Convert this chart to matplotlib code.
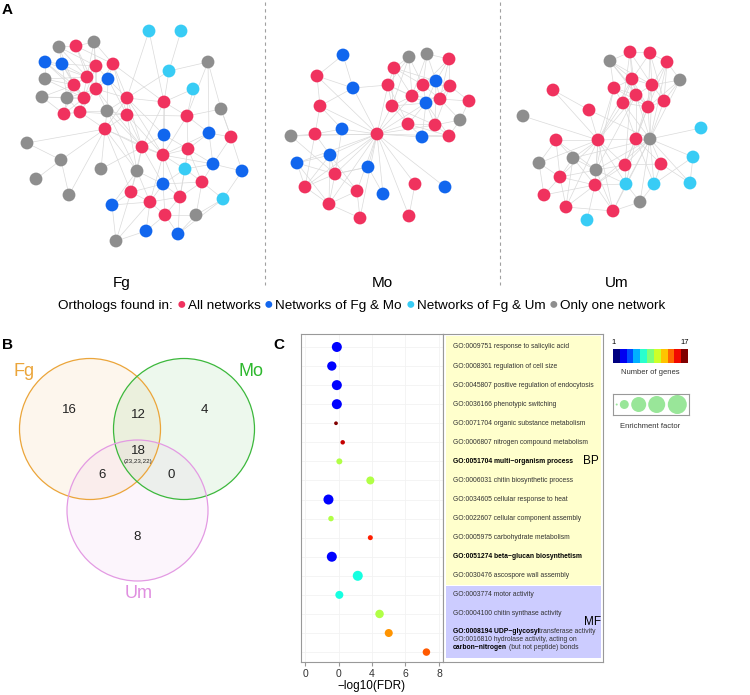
import numpy as np
import matplotlib
matplotlib.use("Agg")
import matplotlib.pyplot as plt
from matplotlib.colors import ListedColormap, BoundaryNorm, Normalize
from matplotlib.patches import Circle, Rectangle
from matplotlib.cm import ScalarMappable

plt.rcParams['font.family'] = ['Liberation Sans', 'DejaVu Sans']

# ---------------- panel A: co-expression networks ----------------
group_colors = {'r': '#F0325E', 'b': '#1166EE', 'c': '#38CCF5', 'g': '#8E8E8E'}
legend_labels = ["All networks", "Networks of Fg & Mo", "Networks of Fg & Um", "Only one network"]
legend_groups = ['r', 'b', 'c', 'g']

fg_x = [149, 181, 169, 193, 185, 223,
        59, 94, 45, 42, 67, 107, 208, 221, 27, 61, 36, 101, 69, 137, 196, 116,
        45, 62, 108, 164, 209, 213, 242, 163, 112, 146, 178,
        76, 96, 113, 87, 74, 96, 84, 127, 64, 80, 127, 105, 164, 187, 231, 142, 163, 188, 202, 131, 150, 180, 165]
fg_y = [31, 31, 71, 89, 169, 199,
        47, 42, 79, 97, 98, 111, 62, 109, 143, 160, 179, 169, 195, 171, 215, 241,
        62, 64, 79, 135, 133, 164, 171, 184, 205, 231, 234,
        46, 66, 64, 77, 85, 89, 98, 98, 114, 112, 115, 129, 102, 116, 137, 147, 155, 149, 182, 192, 202, 197, 215]
fg_grp = "ccccccggggggggggggggggbbbbbbbbbbbrrrrrrrrrrrrrrrrrrrrrrr"
fg_edges = ("6-33 6-36 6-23 6-34 6-37 7-33 7-34 7-36 7-38 7-35 22-23 22-36 22-37 22-8 22-39 23-36 23-37 23-34 "
            "23-39 23-10 8-37 8-36 8-39 9-37 9-39 9-41 9-10 10-39 10-42 10-38 10-41 10-37 11-38 11-40 11-43 11-44 "
            "11-42 11-24 24-35 24-34 24-38 24-40 24-43 33-36 33-35 33-38 34-36 34-38 34-39 35-38 35-40 35-43 36-37 "
            "36-38 36-42 37-39 37-41 38-39 38-42 38-40 39-42 39-41 40-43 40-44 41-42 42-44 43-44 43-42 "
            "40-48 43-48 43-49 44-48 40-45 40-25 43-19 44-19 11-48 44-49 40-49 43-46 38-48 35-45 44-52 11-19 "
            "45-46 45-25 45-48 45-49 46-13 46-50 46-26 46-49 25-48 25-49 25-50 26-50 26-47 26-27 47-27 47-28 "
            "47-13 48-49 48-19 48-52 48-29 49-50 49-29 49-4 49-53 49-54 50-27 50-4 50-51 27-28 27-51 27-4 4-51 "
            "4-29 4-54 51-54 51-5 51-20 5-20 29-52 29-53 29-54 29-55 52-53 52-30 52-19 53-55 53-54 53-31 53-21 "
            "54-55 54-32 55-31 55-32 55-20 19-53 19-29 30-53 30-19 31-21 32-20 51-29 50-54 26-49 27-49 "
            "0-45 0-40 1-2 2-45 2-12 2-40 3-46 3-45 12-13 12-46 13-47 12-26 14-15 14-44 15-16 15-18 15-44 "
            "17-44 17-48 18-44 21-30 21-52 28-5 5-32")

mo_x = [343, 353, 342, 330, 297, 368, 383, 445, 436, 426, 422,
        291, 409, 427, 460,
        317, 320, 315, 377, 335, 305, 329, 357, 360, 415, 409, 394, 388, 392, 412, 423, 449, 450, 440, 469, 408, 435, 449]
mo_y = [55, 88, 129, 155, 163, 167, 194, 187, 81, 103, 137,
        136, 57, 54, 120,
        76, 106, 134, 134, 174, 187, 204, 191, 218, 184, 216, 68, 85, 106, 96, 85, 59, 86, 99, 101, 124, 125, 136]
mo_grp = "bbbbbbbbbbbggggrrrrrrrrrrrrrrrrrrrrrrr"
mo_edges = ("18-1 18-2 18-3 18-4 18-5 18-6 18-7 18-10 18-15 18-16 18-17 18-19 18-20 18-21 18-22 18-23 18-24 "
            "18-25 18-27 18-28 18-35 18-36 18-9 18-29 18-37 18-11 "
            "0-15 0-1 15-1 15-16 1-16 1-27 16-17 16-2 17-2 17-11 17-20 11-19 4-3 4-19 4-20 3-19 3-20 3-22 2-19 "
            "19-20 19-21 19-22 19-5 20-21 21-22 21-3 22-23 5-6 5-19 24-25 21-23 3-17 4-21 "
            "12-26 12-27 12-29 12-30 12-28 13-30 13-31 13-8 13-29 26-27 26-29 26-30 26-8 27-28 27-29 27-9 28-29 "
            "28-9 28-35 29-30 29-9 29-8 29-33 30-8 30-32 30-33 31-32 31-8 31-33 32-33 32-34 32-9 33-34 33-9 33-14 "
            "34-14 8-9 8-33 9-35 9-36 9-10 35-36 35-10 36-37 36-14 10-37 37-14 28-36 27-35 26-28 30-9 31-30 "
            "32-36 8-36 35-37 9-37")

um_x = [630, 650, 667, 632, 652, 614, 636, 664, 623, 648, 553, 589, 598, 636, 556, 560, 595, 625, 661, 544, 566, 613,
        610, 680, 523, 650, 573, 539, 596, 640,
        701, 693, 690, 654, 626, 587]
um_y = [52, 53, 62, 79, 85, 88, 95, 101, 103, 107, 90, 110, 140, 139, 140, 177, 185, 165, 164, 195, 207, 211,
        61, 80, 116, 139, 158, 163, 170, 202,
        128, 157, 183, 184, 184, 220]
um_grp = "rrrrrrrrrrrrrrrrrrrrrrggggggggcccccc"
um_edges = ("22-0 22-3 22-5 22-4 22-6 0-1 0-3 0-4 0-6 1-2 1-4 1-3 1-9 2-4 2-7 2-23 3-4 3-5 3-6 3-9 4-6 4-7 4-9 "
            "4-23 5-6 5-8 6-8 6-9 7-9 7-23 8-9 0-8 1-7 2-9 23-9 22-9 3-8 5-9 "
            "5-12 8-12 6-12 8-13 9-13 6-13 9-25 7-25 4-25 3-12 6-25 8-25 5-28 6-28 9-17 3-17 23-25 4-13 2-25 "
            "10-11 10-12 11-12 11-25 24-12 14-12 12-13 12-26 12-28 12-16 12-15 12-20 12-21 12-17 12-34 12-27 "
            "13-25 25-30 25-31 25-32 25-34 25-17 25-18 25-33 25-16 25-29 25-21 25-26 25-28 13-17 13-34 13-18 "
            "13-33 17-18 17-34 17-28 17-16 18-33 18-32 31-32 31-33 14-26 14-27 14-15 14-28 26-15 26-28 26-16 "
            "27-19 27-15 15-19 15-16 15-20 19-16 16-20 16-21 16-35 16-28 20-21 21-34 21-29 16-34 28-34 28-21 "
            "29-33 29-34 26-20 15-28")

net_names = ["Fg", "Mo", "Um"]

# ---------------- panel B: Venn ----------------
venn_sets = ["Fg", "Mo", "Um"]
venn_counts = {"Fg": 16, "Mo": 4, "Um": 8, "FgMo": 12, "FgUm": 6, "MoUm": 0, "all": 18}
venn_all_note = "(23,23,22)"

# ---------------- panel C: GO enrichment ----------------
go_labels = ["GO:0009751 response to salicylic acid",
             "GO:0008361 regulation of cell size",
             "GO:0045807 positive regulation of endocytosis",
             "GO:0036166 phenotypic switching",
             "GO:0071704 organic substance metabolism",
             "GO:0006807 nitrogen compound metabolism",
             "GO:0051704 multi\u2212organism process",
             "GO:0006031 chitin biosynthetic process",
             "GO:0034605 cellular response to heat",
             "GO:0022607 cellular component assembly",
             "GO:0005975 carbohydrate metabolism",
             "GO:0051274 beta\u2212glucan biosynthetism",
             "GO:0030476 ascospore wall assembly",
             "GO:0003774 motor activity",
             "GO:0004100 chitin synthase activity",
             "GO:0008194 UDP\u2212glycosyltransferase activity",
             "GO:0016810 hydrolase activity, acting on carbon\u2212nitrogen (but not peptide) bonds"]
go_bold = [False, False, False, False, False, False, True, False, False, False, False, True, False,
           False, False, False, False]
neg_log_fdr = [1.9, 1.6, 1.9, 1.9, 1.85, 2.25, 2.05, 3.9, 1.4, 1.55, 3.9, 1.6, 3.15, 2.05, 4.45, 5.0, 7.25]
n_genes = [3, 3, 3, 3, 17, 16, 10, 10, 3, 10, 15, 3, 7, 7, 10, 13, 14]
enrichment = [5.0, 4.3, 5.0, 5.0, 0.7, 1.0, 1.8, 3.2, 5.0, 1.5, 1.25, 5.0, 5.0, 3.2, 3.6, 3.2, 2.8]
x_ticks = [0, 2, 4, 6, 8]
x_ticklabels = ["0", "0", "4", "6", "8"]
enrich_legend = [0.2, 4.0, 11.2, 14.4, 18.0]

# ======================================================
fig = plt.figure(figsize=(7.5, 6.95), dpi=100)
ax0 = fig.add_axes([0, 0, 1, 1])
ax0.set_xlim(0, 750)
ax0.set_ylim(695, 0)
ax0.axis('off')


def draw_net(xs, ys, grp, edges):
    for pair in edges.split():
        i, j = map(int, pair.split('-'))
        ax0.plot([xs[i], xs[j]], [ys[i], ys[j]], color='#DADADA', lw=0.5, zorder=1)
    ax0.scatter(xs, ys, s=85, c=[group_colors[g] for g in grp], linewidths=0, zorder=2)


draw_net(fg_x, fg_y, fg_grp, fg_edges)
draw_net(mo_x, mo_y, mo_grp, mo_edges)
draw_net(um_x, um_y, um_grp, um_edges)

for xv in (265, 500):
    ax0.plot([xv, xv], [2, 285], color='#A0A0A0', lw=0.8, dashes=(3, 3))

for name, xc in zip(net_names, (122, 382, 617)):
    ax0.text(xc, 283, name, fontsize=11, ha='center', va='center')

ax0.text(2, 10, "A", fontsize=11, fontweight='bold', va='center')
ax0.text(2, 345, "B", fontsize=11, fontweight='bold', va='center')
ax0.text(273, 345, "C", fontsize=11, fontweight='bold', va='center')

# legend line
prev = ax0.text(58, 306, "Orthologs found in:", fontsize=9.7, va='center', ha='left')
for lab, g in zip(legend_labels, legend_groups):
    dot = ax0.annotate("\u25CF", xy=(1, 0), xycoords=prev, xytext=(2.5, 0.3), textcoords='offset points',
                       va='bottom', ha='left', fontsize=11.5, color=group_colors[g])
    prev = ax0.annotate(lab, xy=(1, 0), xycoords=dot, xytext=(1.2, -0.3), textcoords='offset points',
                        va='bottom', ha='left', fontsize=9.7)

# Venn diagram
venn_style = {"Fg": ((90, 429), '#EBA53A'), "Mo": ((184, 429), '#3CB83C'), "Um": ((137.5, 510.5), '#E39AE3')}
for s in venn_sets:
    (cx, cy), col = venn_style[s]
    ax0.add_patch(Circle((cx, cy), 70.5, facecolor=col, alpha=0.09, edgecolor='none', zorder=1))
    ax0.add_patch(Circle((cx, cy), 70.5, facecolor='none', edgecolor=col, lw=0.9, zorder=2))
ax0.text(24, 371, "Fg", fontsize=13, color='#EBA53A', ha='center', va='center')
ax0.text(251, 371, "Mo", fontsize=13, color='#2EB82E', ha='center', va='center')
ax0.text(139, 593, "Um", fontsize=13, color='#E08FE0', ha='center', va='center')
venn_pos = {"Fg": (69, 410), "Mo": (204, 410), "Um": (137, 537), "FgMo": (138, 415),
            "FgUm": (102, 475), "MoUm": (171, 475), "all": (138, 451)}
for k, (px, py) in venn_pos.items():
    ax0.text(px, py, str(venn_counts[k]), fontsize=9.5, ha='center', va='center', color='#222222')
ax0.text(138, 462, venn_all_note, fontsize=4.5, ha='center', va='center', color='#222222')

# dot plot
W, H = 750.0, 695.0


def rect(x0, y0, x1, y1):
    return [x0 / W, 1 - y1 / H, (x1 - x0) / W, (y1 - y0) / H]


rows = np.arange(1, len(go_labels) + 1)
ylims = (17.52, 0.32)
axc = fig.add_axes(rect(301, 334, 443, 662))
axc.grid(True, color='#F2F2F2', lw=0.6)
axc.set_axisbelow(True)
axc.scatter(neg_log_fdr, rows, s=np.array(enrichment) * 10.4, c=n_genes, cmap='jet',
            norm=Normalize(1, 17), linewidths=0, zorder=3)
axc.set_xlim(-0.24, 8.24)
axc.set_ylim(*ylims)
axc.set_yticks(rows)
axc.set_yticklabels([])
axc.tick_params(axis='y', length=0)
axc.set_xticks(x_ticks)
axc.set_xticklabels(x_ticklabels)
axc.tick_params(axis='x', length=3, color='#999999', labelsize=7.5, pad=2, labelcolor='#333333')
axc.set_xlabel("\u2212log10(FDR)", fontsize=8.5, labelpad=1)
for sp in axc.spines.values():
    sp.set_color('#999999')
    sp.set_linewidth(0.8)

fs_go = 4.9
axl = fig.add_axes(rect(443, 334, 603, 662))
axl.set_xlim(0, 160)
axl.set_ylim(*ylims)
axl.set_xticks([])
axl.set_yticks([])
for sp in axl.spines.values():
    sp.set_color('#999999')
    sp.set_linewidth(0.8)
axl.add_patch(Rectangle((3, 0.42), 155, 13.07, facecolor='#FFFFCC', edgecolor='none'))
axl.add_patch(Rectangle((3, 13.55), 155, 3.75, facecolor='#CCCCFF', edgecolor='none'))
for r, lab, b in zip(rows, go_labels, go_bold):
    if r == 16:
        t = axl.text(10, 15.9, "GO:0008194 UDP\u2212glycosyl", fontsize=fs_go, fontweight='bold', va='center')
        axl.annotate("transferase activity", xy=(1, 0), xycoords=t, xytext=(-0.6, 0),
                     textcoords='offset points', va='bottom', ha='left', fontsize=fs_go, color='#333333')
    elif r == 17:
        axl.text(10, 16.32, "GO:0016810 hydrolase activity, acting on", fontsize=fs_go, va='center',
                 color='#333333')
        t = axl.text(10, 16.76, "carbon\u2212nitrogen", fontsize=fs_go, fontweight='bold', va='center')
        axl.annotate("(but not peptide) bonds", xy=(1, 0), xycoords=t, xytext=(1.3, 0),
                     textcoords='offset points', va='bottom', ha='left', fontsize=fs_go, color='#333333')
    else:
        axl.text(10, r, lab, fontsize=fs_go, va='center',
                 fontweight='bold' if b else 'normal', color='#000000' if b else '#333333')
axl.text(156, 7.0, "BP", fontsize=8.5, ha='right', va='center')
axl.text(158, 15.4, "MF", fontsize=8.5, ha='right', va='center')

# colour bar for number of genes
cax = fig.add_axes(rect(613, 349, 688, 363))
jet11 = ListedColormap(plt.get_cmap('jet')(np.linspace(0, 1, 11)))
cb = fig.colorbar(ScalarMappable(norm=BoundaryNorm(np.linspace(1, 17, 12), 11), cmap=jet11),
                  cax=cax, orientation='horizontal', ticks=[])
cb.outline.set_visible(False)
cax.minorticks_off()
cax.tick_params(which='both', length=0)
fig.text(614 / W, 1 - 343 / H, "1", fontsize=5.5, ha='center', va='center')
fig.text(685 / W, 1 - 343 / H, "17", fontsize=5.5, ha='center', va='center')
fig.text(650 / W, 1 - 372 / H, "Number of genes", fontsize=5.5, ha='center', va='center', color='#333333')

# enrichment factor key
eax = fig.add_axes(rect(613, 394, 689, 415))
eax.set_xlim(0, 76)
eax.set_ylim(0, 21)
eax.set_xticks([])
eax.set_yticks([])
for sp in eax.spines.values():
    sp.set_color('#999999')
    sp.set_linewidth(0.8)
eax.scatter([3.7, 11.3, 25.7, 43.7, 64.3], [10.5] * 5, s=np.array(enrich_legend) * 10.4,
            color='#99E699', linewidths=0, clip_on=False)
fig.text(650 / W, 1 - 426 / H, "Enrichment factor", fontsize=5.5, ha='center', va='center', color='#333333')

fig.savefig("out.png", dpi=100)
